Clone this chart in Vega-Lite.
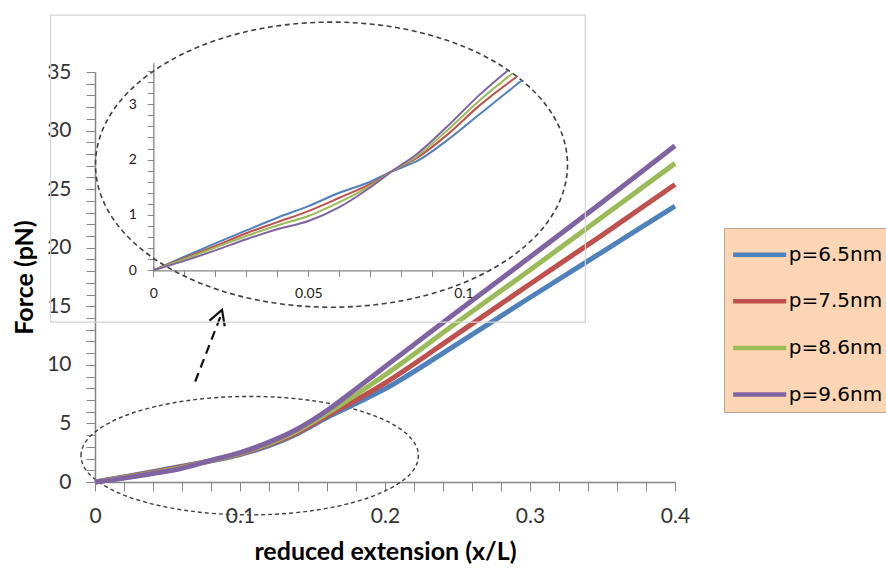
{
  "$schema": "https://vega.github.io/schema/vega-lite/v6.json",
  "autosize": {"type": "none"},
  "width": 580,
  "height": 410,
  "padding": {"left": 95, "top": 72, "right": 211, "bottom": 86},
  "background": "white",
  "config": {
    "view": {"stroke": null},
    "axis": {"grid": false, "labelFont": "Lato", "titleFont": "Lato", "labelColor": "#333333", "titleColor": "#000000", "domainColor": "#868686", "tickColor": "#868686", "labelOverlap": false, "labelFlush": false}
  },
  "datasets": {
    "main": [
      {"x": 0, "F": 0, "p": "p=6.5nm"}, {"x": 0.02, "F": 0.42, "p": "p=6.5nm"}, {"x": 0.04, "F": 0.88, "p": "p=6.5nm"}, {"x": 0.06, "F": 1.35, "p": "p=6.5nm"}, {"x": 0.08, "F": 1.8, "p": "p=6.5nm"}, {"x": 0.1, "F": 2.35, "p": "p=6.5nm"}, {"x": 0.12, "F": 3.1, "p": "p=6.5nm"}, {"x": 0.14, "F": 4.15, "p": "p=6.5nm"}, {"x": 0.16, "F": 5.5, "p": "p=6.5nm"}, {"x": 0.18, "F": 6.7, "p": "p=6.5nm"}, {"x": 0.2, "F": 7.95, "p": "p=6.5nm"}, {"x": 0.25, "F": 11.8, "p": "p=6.5nm"}, {"x": 0.3, "F": 15.75, "p": "p=6.5nm"}, {"x": 0.35, "F": 19.65, "p": "p=6.5nm"}, {"x": 0.4, "F": 23.55, "p": "p=6.5nm"},
      {"x": 0, "F": 0, "p": "p=7.5nm"}, {"x": 0.02, "F": 0.4, "p": "p=7.5nm"}, {"x": 0.04, "F": 0.83, "p": "p=7.5nm"}, {"x": 0.06, "F": 1.3, "p": "p=7.5nm"}, {"x": 0.08, "F": 1.82, "p": "p=7.5nm"}, {"x": 0.1, "F": 2.4, "p": "p=7.5nm"}, {"x": 0.12, "F": 3.2, "p": "p=7.5nm"}, {"x": 0.14, "F": 4.25, "p": "p=7.5nm"}, {"x": 0.16, "F": 5.65, "p": "p=7.5nm"}, {"x": 0.18, "F": 7.0, "p": "p=7.5nm"}, {"x": 0.2, "F": 8.45, "p": "p=7.5nm"}, {"x": 0.25, "F": 12.65, "p": "p=7.5nm"}, {"x": 0.3, "F": 16.9, "p": "p=7.5nm"}, {"x": 0.35, "F": 21.1, "p": "p=7.5nm"}, {"x": 0.4, "F": 25.4, "p": "p=7.5nm"},
      {"x": 0, "F": 0, "p": "p=8.6nm"}, {"x": 0.02, "F": 0.37, "p": "p=8.6nm"}, {"x": 0.04, "F": 0.78, "p": "p=8.6nm"}, {"x": 0.06, "F": 1.24, "p": "p=8.6nm"}, {"x": 0.08, "F": 1.84, "p": "p=8.6nm"}, {"x": 0.1, "F": 2.45, "p": "p=8.6nm"}, {"x": 0.12, "F": 3.3, "p": "p=8.6nm"}, {"x": 0.14, "F": 4.4, "p": "p=8.6nm"}, {"x": 0.16, "F": 5.85, "p": "p=8.6nm"}, {"x": 0.18, "F": 7.45, "p": "p=8.6nm"}, {"x": 0.2, "F": 9.13, "p": "p=8.6nm"}, {"x": 0.25, "F": 13.65, "p": "p=8.6nm"}, {"x": 0.3, "F": 18.1, "p": "p=8.6nm"}, {"x": 0.35, "F": 22.65, "p": "p=8.6nm"}, {"x": 0.4, "F": 27.2, "p": "p=8.6nm"},
      {"x": 0, "F": 0, "p": "p=9.6nm"}, {"x": 0.02, "F": 0.33, "p": "p=9.6nm"}, {"x": 0.04, "F": 0.72, "p": "p=9.6nm"}, {"x": 0.06, "F": 1.17, "p": "p=9.6nm"}, {"x": 0.08, "F": 1.85, "p": "p=9.6nm"}, {"x": 0.1, "F": 2.5, "p": "p=9.6nm"}, {"x": 0.12, "F": 3.4, "p": "p=9.6nm"}, {"x": 0.14, "F": 4.55, "p": "p=9.6nm"}, {"x": 0.16, "F": 6.1, "p": "p=9.6nm"}, {"x": 0.18, "F": 7.95, "p": "p=9.6nm"}, {"x": 0.2, "F": 9.85, "p": "p=9.6nm"}, {"x": 0.25, "F": 14.55, "p": "p=9.6nm"}, {"x": 0.3, "F": 19.2, "p": "p=9.6nm"}, {"x": 0.35, "F": 23.9, "p": "p=9.6nm"}, {"x": 0.4, "F": 28.7, "p": "p=9.6nm"}
    ],
    "inset": [
      {"x": 0, "F": 0, "p": "p=6.5nm"}, {"x": 0.01, "F": 0.245, "p": "p=6.5nm"}, {"x": 0.02, "F": 0.485, "p": "p=6.5nm"}, {"x": 0.03, "F": 0.72, "p": "p=6.5nm"}, {"x": 0.04, "F": 0.95, "p": "p=6.5nm"}, {"x": 0.05, "F": 1.16, "p": "p=6.5nm"}, {"x": 0.06, "F": 1.4, "p": "p=6.5nm"}, {"x": 0.07, "F": 1.6, "p": "p=6.5nm"}, {"x": 0.077, "F": 1.79, "p": "p=6.5nm"}, {"x": 0.085, "F": 1.97, "p": "p=6.5nm"}, {"x": 0.095, "F": 2.36, "p": "p=6.5nm"}, {"x": 0.105, "F": 2.81, "p": "p=6.5nm"}, {"x": 0.1188, "F": 3.43, "p": "p=6.5nm"},
      {"x": 0, "F": 0, "p": "p=7.5nm"}, {"x": 0.01, "F": 0.22, "p": "p=7.5nm"}, {"x": 0.02, "F": 0.44, "p": "p=7.5nm"}, {"x": 0.03, "F": 0.67, "p": "p=7.5nm"}, {"x": 0.04, "F": 0.87, "p": "p=7.5nm"}, {"x": 0.05, "F": 1.07, "p": "p=7.5nm"}, {"x": 0.06, "F": 1.31, "p": "p=7.5nm"}, {"x": 0.07, "F": 1.56, "p": "p=7.5nm"}, {"x": 0.077, "F": 1.79, "p": "p=7.5nm"}, {"x": 0.085, "F": 2.03, "p": "p=7.5nm"}, {"x": 0.095, "F": 2.46, "p": "p=7.5nm"}, {"x": 0.105, "F": 2.97, "p": "p=7.5nm"}, {"x": 0.1175, "F": 3.51, "p": "p=7.5nm"},
      {"x": 0, "F": 0, "p": "p=8.6nm"}, {"x": 0.01, "F": 0.2, "p": "p=8.6nm"}, {"x": 0.02, "F": 0.41, "p": "p=8.6nm"}, {"x": 0.03, "F": 0.62, "p": "p=8.6nm"}, {"x": 0.04, "F": 0.81, "p": "p=8.6nm"}, {"x": 0.05, "F": 0.98, "p": "p=8.6nm"}, {"x": 0.06, "F": 1.23, "p": "p=8.6nm"}, {"x": 0.07, "F": 1.53, "p": "p=8.6nm"}, {"x": 0.077, "F": 1.79, "p": "p=8.6nm"}, {"x": 0.085, "F": 2.06, "p": "p=8.6nm"}, {"x": 0.095, "F": 2.54, "p": "p=8.6nm"}, {"x": 0.105, "F": 3.06, "p": "p=8.6nm"}, {"x": 0.1159, "F": 3.56, "p": "p=8.6nm"},
      {"x": 0, "F": 0, "p": "p=9.6nm"}, {"x": 0.01, "F": 0.17, "p": "p=9.6nm"}, {"x": 0.02, "F": 0.36, "p": "p=9.6nm"}, {"x": 0.03, "F": 0.56, "p": "p=9.6nm"}, {"x": 0.04, "F": 0.74, "p": "p=9.6nm"}, {"x": 0.05, "F": 0.89, "p": "p=9.6nm"}, {"x": 0.06, "F": 1.14, "p": "p=9.6nm"}, {"x": 0.07, "F": 1.5, "p": "p=9.6nm"}, {"x": 0.077, "F": 1.79, "p": "p=9.6nm"}, {"x": 0.085, "F": 2.1, "p": "p=9.6nm"}, {"x": 0.095, "F": 2.61, "p": "p=9.6nm"}, {"x": 0.105, "F": 3.16, "p": "p=9.6nm"}, {"x": 0.1143, "F": 3.61, "p": "p=9.6nm"}
    ]
  },
  "layer": [
    {
      "layer": [
        {
          "data": {"values": [{"x": 0.1631, "F": 27.09}]},
          "mark": {"type": "point", "shape": "M-1,0C-1,-0.3336,-0.5523,-0.604,0,-0.604C0.5523,-0.604,1,-0.3336,1,0C1,0.3336,0.5523,0.604,0,0.604C-0.5523,0.604,-1,0.3336,-1,0Z", "size": 222784, "filled": false, "stroke": "#404040", "strokeWidth": 1.6, "strokeDash": [5, 3.5], "opacity": 1},
          "encoding": {
            "x": {"field": "x", "type": "quantitative", "scale": {"domain": [0, 0.4], "nice": false}},
            "y": {"field": "F", "type": "quantitative", "scale": {"domain": [0, 35], "nice": false}}
          }
        },
        {
          "data": {"values": [{"x": 0.1067, "F": 2.25}]},
          "mark": {"type": "point", "shape": "M-1,0C-1,-0.1939,-0.5523,-0.351,0,-0.351C0.5523,-0.351,1,-0.1939,1,0C1,0.1939,0.5523,0.351,0,0.351C-0.5523,0.351,-1,0.1939,-1,0Z", "size": 113839, "filled": false, "stroke": "#404040", "strokeWidth": 1.4, "strokeDash": [4, 3], "opacity": 1},
          "encoding": {
            "x": {"field": "x", "type": "quantitative", "scale": {"domain": [0, 0.4], "nice": false}},
            "y": {"field": "F", "type": "quantitative", "scale": {"domain": [0, 35], "nice": false}}
          }
        },
        {
          "data": {"values": [{"x": 0.0691, "F": 8.58, "x2": 0.0871, "F2": 14.3}]},
          "mark": {"type": "rule", "stroke": "#111111", "strokeWidth": 2.2, "strokeDash": [9, 6]},
          "encoding": {
            "x": {"field": "x", "type": "quantitative", "scale": {"domain": [0, 0.4], "nice": false}},
            "y": {"field": "F", "type": "quantitative", "scale": {"domain": [0, 35], "nice": false}},
            "x2": {"field": "x2"},
            "y2": {"field": "F2"}
          }
        },
        {
          "data": {"values": [{"x": 0.0876, "F": 14.69}]},
          "mark": {"type": "point", "shape": "M-0.9,1.6L0,0L0.9,1.6", "size": 324, "angle": 20, "filled": false, "stroke": "#111111", "strokeWidth": 2.2, "opacity": 1},
          "encoding": {
            "x": {"field": "x", "type": "quantitative", "scale": {"domain": [0, 0.4], "nice": false}},
            "y": {"field": "F", "type": "quantitative", "scale": {"domain": [0, 35], "nice": false}}
          }
        },
        {
          "data": {"name": "main"},
          "mark": {"type": "line", "strokeWidth": 5, "interpolate": "monotone", "strokeCap": "butt"},
          "encoding": {
            "x": {"field": "x", "type": "quantitative", "scale": {"domain": [0, 0.4], "nice": false},
              "axis": {"orient": "bottom", "title": "reduced extension (x/L)", "values": [0, 0.02, 0.04, 0.06, 0.08, 0.1, 0.12, 0.14, 0.16, 0.18, 0.2, 0.22, 0.24, 0.26, 0.28, 0.3, 0.32, 0.34, 0.36, 0.38, 0.4], "tickCount": 1000, "labelExpr": "indexof([0, 0.1, 0.2, 0.3, 0.4], datum.value) >= 0 ? datum.label : ''", "format": "~g", "labelOverlap": false, "tickSize": 9, "labelPadding": 14, "labelFontSize": 21, "domainWidth": 1.5, "titleFontSize": 25, "titleFontWeight": "bold", "titlePadding": 13}},
            "y": {"field": "F", "type": "quantitative", "scale": {"domain": [0, 35], "nice": false},
              "axis": {"orient": "left", "title": "Force (pN)", "values": [0, 1, 2, 3, 4, 5, 6, 7, 8, 9, 10, 11, 12, 13, 14, 15, 16, 17, 18, 19, 20, 21, 22, 23, 24, 25, 26, 27, 28, 29, 30, 31, 32, 33, 34, 35], "tickCount": 1000, "labelExpr": "datum.value % 5 === 0 ? datum.label : ''", "format": "~g", "labelOverlap": false, "tickSize": 9, "labelPadding": 15, "labelFontSize": 21, "domainWidth": 1.5, "titleFontSize": 25, "titleFontWeight": "bold", "titlePadding": 9}},
            "color": {"field": "p", "type": "nominal", "sort": ["p=6.5nm", "p=7.5nm", "p=8.6nm", "p=9.6nm"],
              "scale": {"domain": ["p=6.5nm", "p=7.5nm", "p=8.6nm", "p=9.6nm"], "range": ["#4F81BD", "#C0504D", "#9BBB59", "#8064A2"]},
              "legend": {"title": null, "orient": "none", "legendX": 629, "legendY": 156, "fillColor": "#FCD5B4", "strokeColor": "#BFA58F", "padding": 6.7, "symbolType": "M-1.5,0L1.5,0", "symbolSize": 1253, "symbolStrokeWidth": 4.5, "symbolOffset": 9, "labelOffset": 9, "labelFont": "DejaVu Sans", "labelFontSize": 20, "labelColor": "#000000", "rowPadding": 16.6, "labelLimit": 300}}
          }
        }
      ]
    },
    {
      "layer": [
        {
          "data": {"values": [{"x": -0.0331, "x2": 0.1393, "F": -0.935, "F2": 4.61}]},
          "mark": {"type": "rect", "fill": null, "fillOpacity": 0, "stroke": "#D4D4D4", "strokeWidth": 1.2},
          "encoding": {
            "x": {"field": "x", "type": "quantitative", "scale": {"domain": [0, 0.1075], "nice": false, "range": [58.3, 391.7]}},
            "y": {"field": "F", "type": "quantitative", "scale": {"domain": [0, 3.75], "nice": false, "range": [198.3, -9.3]}},
            "x2": {"field": "x2"},
            "y2": {"field": "F2"}
          }
        },
        {
          "data": {"name": "inset"},
          "mark": {"type": "line", "strokeWidth": 2, "interpolate": "monotone"},
          "encoding": {
            "x": {"field": "x", "type": "quantitative", "scale": {"domain": [0, 0.1075], "nice": false, "range": [58.3, 391.7]},
              "axis": {"orient": "bottom", "offset": -211.7, "title": null, "values": [0, 0.01, 0.02, 0.03, 0.04, 0.05, 0.06, 0.07, 0.08, 0.09, 0.1], "tickCount": 1000, "labelExpr": "indexof([0, 0.05, 0.1], datum.value) >= 0 ? datum.label : ''", "format": "~g", "labelOverlap": false, "tickSize": 6, "labelPadding": 10, "labelFontSize": 14, "labelColor": "#222222", "domainWidth": 1.3}},
            "y": {"field": "F", "type": "quantitative", "scale": {"domain": [0, 3.75], "nice": false, "range": [198.3, -9.3]},
              "axis": {"orient": "left", "offset": -58.3, "title": null, "values": [0, 0.2, 0.4, 0.6, 0.8, 1, 1.2, 1.4, 1.6, 1.8, 2, 2.2, 2.4, 2.6, 2.8, 3, 3.2, 3.4, 3.6], "tickCount": 1000, "labelExpr": "datum.value % 1 === 0 ? datum.label : ''", "format": "~g", "labelOverlap": false, "tickSize": 6, "labelPadding": 11, "labelFontSize": 14, "labelColor": "#222222", "domainWidth": 1.3}},
            "color": {"field": "p", "type": "nominal", "scale": {"domain": ["p=6.5nm", "p=7.5nm", "p=8.6nm", "p=9.6nm"], "range": ["#4F81BD", "#C0504D", "#9BBB59", "#8064A2"]}, "legend": null}
          }
        }
      ]
    }
  ],
  "resolve": {"scale": {"x": "independent", "y": "independent"}, "axis": {"x": "independent", "y": "independent"}}
}
